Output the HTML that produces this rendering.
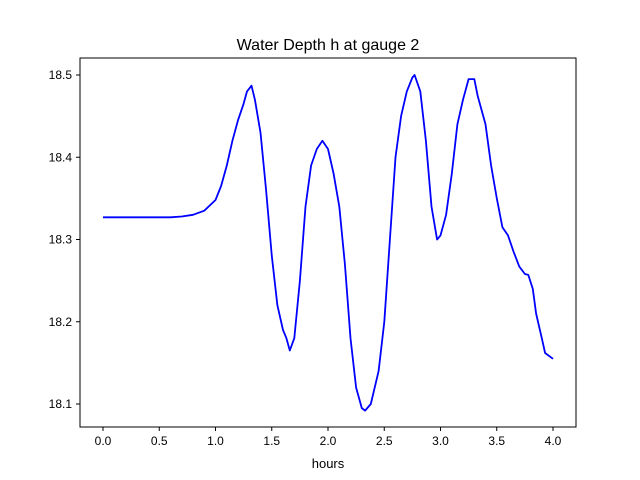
<!DOCTYPE html>
<html><head><meta charset="utf-8"><style>
body{margin:0;background:#fff;}
svg{display:block;font-family:"Liberation Sans","DejaVu Sans",sans-serif;}
</style></head><body>
<svg id="chart" width="640" height="480">
<rect width="640" height="480" fill="#fff"/>
<text x="328" y="50" text-anchor="middle" font-size="16">Water Depth h at gauge 2</text>
<g id="plot"></g>
<rect x="80" y="58" width="496" height="369" fill="none" stroke="#000" stroke-width="1"/>
<text x="328" y="468" text-anchor="middle" font-size="13">hours</text>
</svg>
<script>
const times=[0,0.3,0.6,0.7,0.8,0.9,1.0,1.05,1.1,1.15,1.2,1.25,1.28,1.32,1.35,1.4,1.45,1.5,1.55,1.6,1.63,1.66,1.7,1.75,1.8,1.85,1.9,1.95,2.0,2.05,2.1,2.15,2.2,2.25,2.3,2.33,2.38,2.45,2.5,2.55,2.6,2.65,2.7,2.75,2.77,2.82,2.87,2.92,2.97,3.0,3.05,3.1,3.15,3.2,3.25,3.3,3.33,3.4,3.45,3.5,3.55,3.6,3.65,3.7,3.75,3.78,3.82,3.85,3.9,3.93,4.0];
const depth=[18.327,18.327,18.327,18.328,18.330,18.335,18.348,18.365,18.39,18.42,18.445,18.465,18.48,18.487,18.47,18.43,18.36,18.28,18.22,18.19,18.18,18.165,18.18,18.25,18.34,18.39,18.41,18.42,18.41,18.38,18.34,18.27,18.18,18.12,18.095,18.092,18.10,18.14,18.2,18.30,18.40,18.45,18.48,18.497,18.50,18.48,18.42,18.34,18.30,18.305,18.33,18.38,18.44,18.47,18.495,18.495,18.475,18.44,18.39,18.35,18.315,18.305,18.285,18.267,18.258,18.257,18.24,18.21,18.18,18.162,18.155];
const xTicks=[0,0.5,1.0,1.5,2.0,2.5,3.0,3.5,4.0];
const yTicks=[18.1,18.2,18.3,18.4,18.5];
const NS="http://www.w3.org/2000/svg";
const xs=v=>103+v*112.5;
const ys=v=>75+(18.5-v)*822.5;
const g=document.getElementById('plot');
function mk(t,a){const e=document.createElementNS(NS,t);for(const k in a)e.setAttribute(k,a[k]);return e;}
xTicks.forEach(v=>{
  const l=mk('line',{x1:xs(v),x2:xs(v),y1:427,y2:431,stroke:'#000'});
  
  
  g.appendChild(l);
  const t=mk('text',{x:xs(v),y:445,'text-anchor':'middle','font-size':'12'});
  t.textContent=v.toFixed(1);
  
  
  g.appendChild(t);
});
yTicks.forEach(v=>{
  const l=mk('line',{x1:76,x2:80,y1:ys(v),y2:ys(v),stroke:'#000'});
  
  
  g.appendChild(l);
  const t=mk('text',{x:72,y:ys(v)+4,'text-anchor':'end','font-size':'12'});
  t.textContent=v.toFixed(1);
  
  
  g.appendChild(t);
});
const p=mk('path',{d:times.map((t,i)=>(i?'L':'M')+xs(t).toFixed(1)+','+ys(depth[i]).toFixed(1)).join(''),fill:'none',stroke:'#0000ff','stroke-width':'1.8','stroke-linejoin':'round'});


g.appendChild(p);
</script>
</body></html>
